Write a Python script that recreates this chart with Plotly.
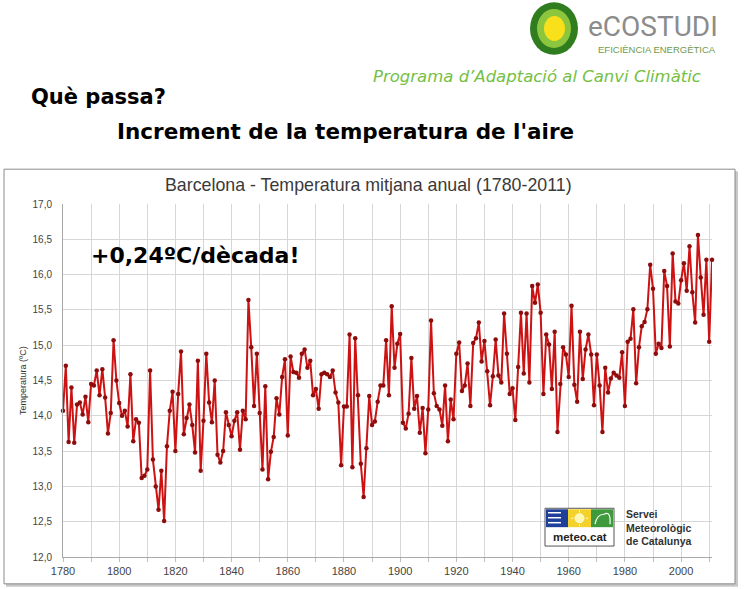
import plotly.graph_objects as go

# Annual mean temperature, Barcelona, 1780-2011 (ºC)
first_year = 1780
temps = [
    14.07, 14.71, 13.63, 14.40, 13.62, 14.16, 14.19, 14.02, 14.27, 13.91,  # 1780s
    14.45, 14.43, 14.64, 14.29, 14.66, 14.26, 13.75, 14.04, 15.07, 14.50,  # 1790s
    14.18, 14.00, 14.07, 13.85, 14.59, 13.64, 13.95, 13.90, 13.12, 13.15,  # 1800s
    13.24, 14.64, 13.38, 13.00, 12.67, 13.22, 12.51, 13.57, 14.07, 14.34,  # 1810s
    13.50, 14.31, 14.91, 13.74, 13.97, 14.16, 13.87, 13.48, 14.78, 13.22,  # 1820s
    13.93, 14.88, 14.19, 13.91, 14.50, 13.45, 13.34, 13.50, 14.05, 13.87,  # 1830s
    13.71, 13.93, 14.05, 13.52, 14.07, 13.95, 15.64, 14.97, 14.14, 14.88,  # 1840s
    14.04, 13.24, 14.42, 13.10, 13.49, 13.70, 14.25, 14.02, 14.55, 14.80,  # 1850s
    13.72, 14.84, 14.62, 14.61, 14.54, 14.88, 14.94, 14.68, 14.78, 14.29,  # 1860s
    14.38, 14.10, 14.59, 14.61, 14.59, 14.55, 14.64, 14.33, 14.19, 13.30,  # 1870s
    14.13, 14.13, 15.15, 13.27, 15.10, 14.29, 13.32, 12.85, 13.54, 14.28,  # 1880s
    13.87, 13.92, 14.20, 14.43, 14.43, 15.07, 14.29, 15.55, 14.68, 15.02,  # 1890s
    15.16, 13.90, 13.82, 14.03, 14.82, 14.10, 14.28, 13.76, 14.11, 13.47,  # 1900s
    14.09, 15.35, 14.32, 14.14, 14.09, 13.86, 14.43, 13.64, 14.23, 13.95,  # 1910s
    14.88, 15.04, 14.35, 14.43, 14.74, 14.14, 15.03, 15.10, 15.32, 14.77,  # 1920s
    15.06, 14.63, 14.15, 14.56, 15.08, 14.57, 14.47, 15.45, 14.88, 14.31,  # 1930s
    14.39, 13.94, 14.69, 15.46, 14.60, 15.45, 14.47, 15.84, 15.60, 15.86,  # 1940s
    15.46, 14.31, 15.15, 15.01, 14.38, 15.19, 13.77, 14.45, 14.97, 14.87,  # 1950s
    14.55, 15.56, 14.44, 14.20, 15.19, 14.52, 14.94, 15.15, 14.87, 14.15,  # 1960s
    14.87, 14.43, 13.77, 14.68, 14.33, 14.53, 14.61, 14.57, 14.54, 14.90,  # 1970s
    14.14, 15.05, 15.09, 15.51, 14.46, 14.97, 15.27, 15.33, 15.51, 16.14,  # 1980s
    15.80, 14.88, 15.02, 14.96, 16.05, 15.84, 14.98, 16.30, 15.62, 15.59,  # 1990s
    15.92, 16.16, 15.77, 16.40, 15.75, 15.32, 16.56, 15.96, 15.43, 16.21,  # 2000s
    15.05, 16.21,                                                          # 2010s
]
years = list(range(first_year, first_year + len(temps)))

y_tick_vals = [12.0, 12.5, 13.0, 13.5, 14.0, 14.5, 15.0, 15.5, 16.0, 16.5, 17.0]
y_tick_text = ["12,0", "12,5", "13,0", "13,5", "14,0", "14,5", "15,0", "15,5", "16,0", "16,5", "17,0"]
x_tick_vals = [1780, 1800, 1820, 1840, 1860, 1880, 1900, 1920, 1940, 1960, 1980, 2000]

chart_title = "Barcelona - Temperatura mitjana anual (1780-2011)"
y_title = "Temperatura (ºC)"
trend_label = "+0,24ºC/dècada!"

W, H = 750, 589
ML, MR, MT, MB = 63, 38, 204, 30
PW, PH = W - ML - MR, H - MT - MB


def px(x):
    """Pixel column -> paper x."""
    return (x - ML) / PW


def py(y):
    """Pixel row (from top) -> paper y."""
    return (H - MB - y) / PH


fig = go.Figure()
fig.add_trace(go.Scatter(
    x=years, y=temps, mode="lines+markers",
    line=dict(color="#cc1212", width=2),
    marker=dict(color="#8e0c0c", size=4.5, line=dict(width=0)),
    cliponaxis=False, showlegend=False,
))

shapes = []
# chart frame with a soft drop shadow
shapes.append(dict(type="rect", xref="paper", yref="paper", layer="below",
                   x0=px(6), x1=px(738), y0=py(589), y1=py(171),
                   fillcolor="#c9c9c9", line=dict(width=0)))
shapes.append(dict(type="rect", xref="paper", yref="paper", layer="below",
                   x0=px(4), x1=px(735), y0=py(586), y1=py(169),
                   fillcolor="white", line=dict(color="#8a8a8a", width=1)))

# ecostudi roundel
shapes.append(dict(type="circle", xref="paper", yref="paper",
                   x0=px(530), x1=px(578), y0=py(54), y1=py(1),
                   fillcolor="#2f7d1e", line=dict(width=0)))
shapes.append(dict(type="circle", xref="paper", yref="paper",
                   x0=px(537), x1=px(571), y0=py(47), y1=py(8),
                   fillcolor="#8cc63f", line=dict(width=0)))
shapes.append(dict(type="circle", xref="paper", yref="paper",
                   x0=px(544), x1=px(565), y0=py(40), y1=py(15),
                   fillcolor="#f8e11a", line=dict(width=0)))

# meteo.cat badge
shapes.append(dict(type="rect", xref="paper", yref="paper",
                   x0=px(545), x1=px(614), y0=py(548), y1=py(510),
                   fillcolor="white", line=dict(color="#555555", width=1)))
shapes.append(dict(type="rect", xref="paper", yref="paper",
                   x0=px(546), x1=px(568), y0=py(529), y1=py(511),
                   fillcolor="#1d3f9a", line=dict(width=0)))
shapes.append(dict(type="rect", xref="paper", yref="paper",
                   x0=px(568), x1=px(591), y0=py(529), y1=py(511),
                   fillcolor="#f4d22c", line=dict(width=0)))
shapes.append(dict(type="rect", xref="paper", yref="paper",
                   x0=px(591), x1=px(613), y0=py(529), y1=py(511),
                   fillcolor="#3e9a3a", line=dict(width=0)))
for ly in (514.5, 519.5, 524.5):
    shapes.append(dict(type="line", xref="paper", yref="paper",
                       x0=px(548), x1=px(561), y0=py(ly), y1=py(ly),
                       line=dict(color="white", width=1.5)))
shapes.append(dict(type="circle", xref="paper", yref="paper",
                   x0=px(575), x1=px(584), y0=py(524.5), y1=py(515.5),
                   fillcolor="#fff6b0", line=dict(color="#fffbe0", width=1)))
for (ax0, ay0, ax1, ay1) in [(579.5, 512, 579.5, 514), (579.5, 526, 579.5, 528),
                             (571, 520, 573, 520), (586, 520, 588, 520)]:
    shapes.append(dict(type="line", xref="paper", yref="paper",
                       x0=px(ax0), x1=px(ax1), y0=py(ay0), y1=py(ay1),
                       line=dict(color="#fffbe0", width=1)))
cloud = "M {} {} Q {} {} {} {} Q {} {} {} {}".format(
    px(595), py(526), px(597), py(516), px(604), py(516),
    px(611), py(512), px(610), py(526))
shapes.append(dict(type="path", xref="paper", yref="paper", path=cloud,
                   line=dict(color="white", width=1.2)))

annotations = []


def note(text, x, y, size, color="#000000", family="DejaVu Sans",
         xanchor="left", yanchor="middle", angle=0, align="left"):
    annotations.append(dict(text=text, x=px(x), y=py(y), xref="paper", yref="paper",
                            xanchor=xanchor, yanchor=yanchor, showarrow=False,
                            textangle=angle, align=align,
                            font=dict(size=size, color=color, family=family)))


note("eCOSTUDI", 586, 25, 28, color="#8c8c8c", family="Roboto")
note("EFICIÈNCIA ENERGÈTICA", 657, 49, 9.5, color="#6f9a4d",
     family="Liberation Sans", xanchor="center")
note("<i>Programa d’Adaptació al Canvi Climàtic</i>", 703, 76, 16.5,
     color="#74c043", xanchor="right")
note("<b>Què passa?</b>", 29, 96, 21)
note("<b>Increment de la temperatura de l'aire</b>", 115, 131, 21.5)
note(chart_title, 368, 185, 17.8, color="#3a3a3a", family="Liberation Sans",
     xanchor="center")
note(y_title, 23, 382, 9, color="#333333", family="Liberation Sans",
     xanchor="center", angle=-90)
note("<b>" + trend_label + "</b>", 89, 256, 22)
note("<b>meteo.cat</b>", 580, 539, 11.5, color="#222222",
     family="Liberation Sans", xanchor="center")
note("<b>Servei<br>Meteorològic<br>de Catalunya</b>", 624, 529, 10.5,
     color="#333333", family="Liberation Sans")

fig.update_layout(
    width=W, height=H,
    margin=dict(l=ML, r=MR, t=MT, b=MB, pad=0),
    paper_bgcolor="white", plot_bgcolor="white",
    shapes=shapes, annotations=annotations,
    showlegend=False,
)
fig.update_xaxes(
    range=[1780, 2011], tickvals=x_tick_vals,
    showgrid=True, gridcolor="#d6d6d6", gridwidth=1,
    minor=dict(dtick=10, tick0=1780, showgrid=True, gridcolor="#d6d6d6",
               ticks="outside", ticklen=4, tickcolor="#bdbdbd"),
    ticks="outside", ticklen=4, tickcolor="#bdbdbd",
    showline=True, linecolor="#a8a8a8", linewidth=1,
    tickfont=dict(family="Liberation Sans", size=11, color="#444444"),
    zeroline=False,
)
fig.update_yaxes(
    range=[12, 17], tickvals=y_tick_vals, ticktext=y_tick_text,
    showgrid=True, gridcolor="#d6d6d6", gridwidth=1,
    ticks="", ticklabelstandoff=8,
    showline=True, linecolor="#a8a8a8", linewidth=1,
    tickfont=dict(family="Liberation Sans", size=10, color="#444444"),
    zeroline=False,
)

fig.write_html("out.html")
